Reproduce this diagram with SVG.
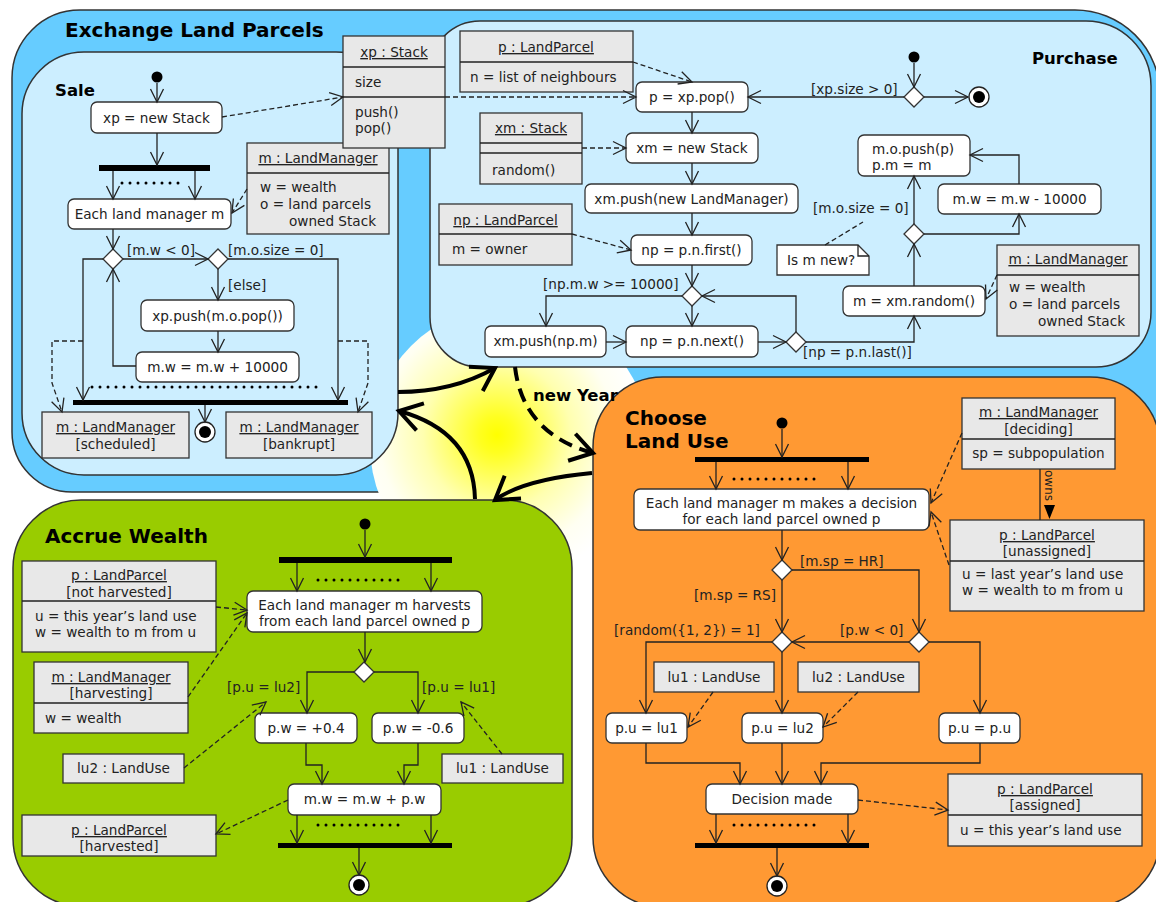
<svg xmlns="http://www.w3.org/2000/svg" width="1156" height="902" viewBox="0 0 1156 902">
<defs>
<radialGradient id="sun" cx="497" cy="435" r="148" gradientUnits="userSpaceOnUse">
<stop offset="0" stop-color="#ffff00"/>
<stop offset="0.12" stop-color="#ffff20"/>
<stop offset="0.5" stop-color="#ffffb0"/>
<stop offset="0.8" stop-color="#fffff2"/>
<stop offset="1" stop-color="#ffffff"/>
</radialGradient>
<marker id="a" markerUnits="userSpaceOnUse" markerWidth="16" markerHeight="16" viewBox="0 0 16 16" refX="14" refY="8" orient="auto"><path d="M1,1.5 L14,8 L1,14.5" fill="none" stroke="#222" stroke-width="1.3"/></marker>
<marker id="T" markerUnits="userSpaceOnUse" markerWidth="34" markerHeight="34" viewBox="0 0 34 34" refX="26" refY="17" orient="auto"><path d="M4,3 L26,17 L4,31" fill="none" stroke="#000" stroke-width="4"/></marker>
<style>
.t{font-family:"DejaVu Sans",Verdana,sans-serif;font-size:13.6px;fill:#222}
.c{text-anchor:middle}
.u{text-decoration:underline}
.h{font-family:"DejaVu Sans",Verdana,sans-serif;font-weight:bold;fill:#000}
.act{fill:#fff;stroke:#333;stroke-width:1.3}
.obj{fill:#e8e8e8;stroke:#333;stroke-width:1.3}
.ln{fill:none;stroke:#222;stroke-width:1.3}
.ar{marker-end:url(#a)}
.ds{stroke-dasharray:5 3}
.bar{fill:#000}
.dots{stroke:#000;stroke-width:3;stroke-linecap:round;stroke-dasharray:0 8;fill:none}
.dia{fill:#fff;stroke:#333;stroke-width:1.3}
.fin{fill:#fff;stroke:#222;stroke-width:1.3}
.big{fill:none;stroke:#000;stroke-width:4;marker-end:url(#T)}
.box{stroke:#333;stroke-width:1.5}
</style>
</defs>
<rect width="1156" height="902" fill="#fff"/>

<!-- containers -->
<g id="exchange">
<path class="box" d="M80,10 H1075 A85,85 0 0 1 1160,95 V432 A60,60 0 0 1 1100,492 H72 A60,60 0 0 1 12,432 V78 A68,68 0 0 1 80,10 Z" fill="#66ccff"/>
</g>
<circle id="sunbg" cx="510" cy="445" r="140" fill="url(#sun)"/>
<g id="sale-box"><rect class="box" x="22" y="52" width="376" height="423" rx="62" fill="#cceeff"/></g>
<g id="purchase-box"><path class="box" d="M480,21 H1086 A65,65 0 0 1 1151,86 V312 A55,55 0 0 1 1096,367 H480 A50,50 0 0 1 430,317 V71 A50,50 0 0 1 480,21 Z" fill="#cceeff"/></g>
<g id="accrue-box"><rect class="box" x="13" y="500" width="559" height="406" rx="68" fill="#99cc00"/></g>
<g id="choose-box"><rect class="box" x="593" y="377" width="567" height="530" rx="70" fill="#ff9933"/></g>

<text class="h" x="65" y="37" font-size="20">Exchange Land Parcels</text>
<text class="h" x="55" y="96" font-size="16.5">Sale</text>
<text class="h" x="1032" y="64" font-size="16.5">Purchase</text>
<text class="h" x="45" y="543" font-size="20">Accrue Wealth</text>
<text class="h" x="625" y="425" font-size="20">Choose</text>
<text class="h" x="625" y="448" font-size="20">Land Use</text>
<text class="h" x="533" y="401" font-size="16.5">new Year</text>

<!-- ===== Sale nodes ===== -->
<g id="s-init"><circle cx="157" cy="77" r="5.5" fill="#000"/></g>
<g id="s-newstack"><rect class="act" x="91" y="102" width="131" height="31" rx="6"/><text class="t c" x="156.5" y="122.5">xp = new Stack</text></g>
<g id="s-fork"><rect class="bar" x="99" y="165" width="111" height="6"/></g>
<g id="s-each"><rect class="act" x="68" y="199" width="163" height="30" rx="6"/><text class="t c" x="149.5" y="219">Each land manager m</text></g>
<g id="s-lm"><rect class="obj" x="247" y="143" width="142" height="91"/><line class="ln" x1="247" y1="173" x2="389" y2="173"/>
<text class="t c u" x="318" y="163">m : LandManager</text>
<text class="t" x="260" y="192">w = wealth</text><text class="t" x="260" y="209">o = land parcels</text><text class="t" x="289" y="226">owned Stack</text></g>
<g id="s-xp"><rect class="obj" x="343" y="36" width="102" height="112"/><line class="ln" x1="343" y1="67" x2="445" y2="67"/><line class="ln" x1="343" y1="97" x2="445" y2="97"/>
<text class="t c u" x="394" y="57">xp : Stack</text><text class="t" x="355" y="87">size</text><text class="t" x="355" y="117">push()</text><text class="t" x="355" y="133">pop()</text></g>
<g id="s-d1"><polygon class="dia" points="113,249 123,259 113,269 103,259"/></g>
<g id="s-d2"><polygon class="dia" points="218,249 228,259 218,269 208,259"/></g>
<g id="s-push"><rect class="act" x="141" y="300" width="153" height="31" rx="6"/><text class="t c" x="217.5" y="320.5">xp.push(m.o.pop())</text></g>
<g id="s-plus"><rect class="act" x="136" y="352" width="163" height="30" rx="6"/><text class="t c" x="217.5" y="372">m.w = m.w + 10000</text></g>
<g id="s-join"><rect class="bar" x="73" y="400" width="275" height="5"/></g>
<g id="s-final"><circle class="fin" cx="205" cy="432" r="10"/><circle cx="205" cy="432" r="6" fill="#000"/></g>
<g id="s-sched"><rect class="obj" x="42" y="412" width="147" height="46"/><text class="t c u" x="115.5" y="432">m : LandManager</text><text class="t c" x="115.5" y="449">[scheduled]</text></g>
<g id="s-bank"><rect class="obj" x="226" y="412" width="146" height="46"/><text class="t c u" x="299" y="432">m : LandManager</text><text class="t c" x="299" y="449">[bankrupt]</text></g>

<!-- ===== Purchase nodes ===== -->
<g id="p-lp"><rect class="obj" x="460" y="31" width="173" height="61"/><line class="ln" x1="460" y1="62" x2="633" y2="62"/><text class="t c u" x="546" y="52">p : LandParcel</text><text class="t" x="470" y="82">n = list of neighbours</text></g>
<g id="p-pop"><rect class="act" x="636" y="82" width="112" height="30" rx="6"/><text class="t c" x="692" y="102">p = xp.pop()</text></g>
<g id="p-xm"><rect class="obj" x="480" y="113" width="102" height="71"/><line class="ln" x1="480" y1="143" x2="582" y2="143"/><line class="ln" x1="480" y1="153" x2="582" y2="153"/><text class="t c u" x="531" y="133">xm : Stack</text><text class="t" x="492" y="175">random()</text></g>
<g id="p-newxm"><rect class="act" x="626" y="133" width="132" height="30" rx="6"/><text class="t c" x="692" y="153">xm = new Stack</text></g>
<g id="p-pushlm"><rect class="act" x="585" y="184" width="213" height="29" rx="6"/><text class="t c" x="691.5" y="203.5">xm.push(new LandManager)</text></g>
<g id="p-np"><rect class="obj" x="439" y="204" width="133" height="61"/><line class="ln" x1="439" y1="234" x2="572" y2="234"/><text class="t c u" x="505.5" y="225">np : LandParcel</text><text class="t" x="452" y="254">m = owner</text></g>
<g id="p-first"><rect class="act" x="631" y="235" width="121" height="30" rx="6"/><text class="t c" x="691.5" y="255">np = p.n.first()</text></g>
<g id="p-d5"><polygon class="dia" points="692,286 702,296 692,306 682,296"/></g>
<g id="p-pushnp"><rect class="act" x="485" y="326" width="121" height="31" rx="6"/><text class="t c" x="545.5" y="346">xm.push(np.m)</text></g>
<g id="p-next"><rect class="act" x="626" y="326" width="132" height="31" rx="6"/><text class="t c" x="692" y="346">np = p.n.next()</text></g>
<g id="p-d6"><polygon class="dia" points="796,332 806,342 796,352 786,342"/></g>
<g id="p-random"><rect class="act" x="843" y="286" width="142" height="30" rx="6"/><text class="t c" x="914" y="306">m = xm.random()</text></g>
<g id="p-d7"><polygon class="dia" points="914,224 924,234 914,244 904,234"/></g>
<g id="p-minus"><rect class="act" x="938" y="184" width="163" height="30" rx="6"/><text class="t c" x="1019.5" y="204">m.w = m.w - 10000</text></g>
<g id="p-opush"><rect class="act" x="858" y="135" width="112" height="41" rx="6"/><text class="t" x="872" y="154">m.o.push(p)</text><text class="t" x="872" y="170">p.m = m</text></g>
<g id="p-d8"><polygon class="dia" points="914,87 924,97 914,107 904,97"/></g>
<g id="p-init"><circle cx="914" cy="57" r="5.5" fill="#000"/></g>
<g id="p-final"><circle class="fin" cx="979" cy="97" r="10"/><circle cx="979" cy="97" r="6" fill="#000"/></g>
<g id="p-lm"><rect class="obj" x="997" y="245" width="142" height="91"/><line class="ln" x1="997" y1="275" x2="1139" y2="275"/><text class="t c u" x="1068" y="264">m : LandManager</text>
<text class="t" x="1009" y="292">w = wealth</text><text class="t" x="1009" y="309">o = land parcels</text><text class="t" x="1038" y="326">owned Stack</text></g>
<g id="p-note"><polygon points="777,245 858,245 869,256 869,275 777,275" fill="#fff" stroke="#333" stroke-width="1.3"/><polyline class="ln" points="858,245 858,256 869,256"/><text class="t" x="787" y="265">Is m new?</text></g>

<!-- ===== Accrue Wealth nodes ===== -->
<g id="a-init"><circle cx="365" cy="524" r="5.5" fill="#000"/></g>
<g id="a-fork"><rect class="bar" x="279" y="557" width="173" height="6"/></g>
<g id="a-each"><rect class="act" x="247" y="591" width="235" height="41" rx="6"/><text class="t c" x="364.5" y="610">Each land manager m harvests</text><text class="t c" x="364.5" y="626">from each land parcel owned p</text></g>
<g id="a-d9"><polygon class="dia" points="364,662 374,672 364,682 354,672"/></g>
<g id="a-pos"><rect class="act" x="255" y="713" width="102" height="30" rx="6"/><text class="t c" x="306" y="733">p.w = +0.4</text></g>
<g id="a-neg"><rect class="act" x="372" y="713" width="92" height="30" rx="6"/><text class="t c" x="418" y="733">p.w = -0.6</text></g>
<g id="a-sum"><rect class="act" x="288" y="784" width="153" height="31" rx="6"/><text class="t c" x="364.5" y="804">m.w = m.w + p.w</text></g>
<g id="a-join"><rect class="bar" x="278" y="843" width="174" height="5"/></g>
<g id="a-final"><circle class="fin" cx="359" cy="885" r="10"/><circle cx="359" cy="885" r="6" fill="#000"/></g>
<g id="a-pnh"><rect class="obj" x="22" y="561" width="194" height="91"/><line class="ln" x1="22" y1="601" x2="216" y2="601"/><text class="t c u" x="119" y="580">p : LandParcel</text><text class="t c" x="119" y="597">[not harvested]</text>
<text class="t" x="35" y="621">u = this year’s land use</text><text class="t" x="35" y="637">w = wealth to m from u</text></g>
<g id="a-lm"><rect class="obj" x="34" y="662" width="154" height="71"/><line class="ln" x1="34" y1="703" x2="188" y2="703"/><text class="t c u" x="111" y="682">m : LandManager</text><text class="t c" x="111" y="698">[harvesting]</text><text class="t" x="45" y="723">w = wealth</text></g>
<g id="a-lu2"><rect class="obj" x="63" y="754" width="121" height="29"/><text class="t c" x="123.5" y="773">lu2 : LandUse</text></g>
<g id="a-lu1"><rect class="obj" x="442" y="754" width="121" height="29"/><text class="t c" x="502.5" y="773">lu1 : LandUse</text></g>
<g id="a-ph"><rect class="obj" x="22" y="815" width="194" height="41"/><text class="t c u" x="119" y="835">p : LandParcel</text><text class="t c" x="119" y="851">[harvested]</text></g>

<!-- ===== Choose Land Use nodes ===== -->
<g id="c-init"><circle cx="782" cy="423" r="5.5" fill="#000"/></g>
<g id="c-fork"><rect class="bar" x="695" y="457" width="174" height="5"/></g>
<g id="c-each"><rect class="act" x="634" y="489" width="295" height="41" rx="6"/><text class="t c" x="781.5" y="508">Each land manager m makes a decision</text><text class="t c" x="781.5" y="524">for each land parcel owned p</text></g>
<g id="c-d10"><polygon class="dia" points="782,560 792,570 782,580 772,570"/></g>
<g id="c-d11"><polygon class="dia" points="919,632 929,642 919,652 909,642"/></g>
<g id="c-d12"><polygon class="dia" points="782,632 792,642 782,652 772,642"/></g>
<g id="c-lu1"><rect class="obj" x="654" y="662" width="120" height="30"/><text class="t c" x="714" y="682">lu1 : LandUse</text></g>
<g id="c-lu2"><rect class="obj" x="798" y="662" width="121" height="30"/><text class="t c" x="858.5" y="682">lu2 : LandUse</text></g>
<g id="c-pu1"><rect class="act" x="606" y="713" width="81" height="30" rx="6"/><text class="t c" x="646.5" y="733">p.u = lu1</text></g>
<g id="c-pu2"><rect class="act" x="742" y="713" width="81" height="30" rx="6"/><text class="t c" x="782.5" y="733">p.u = lu2</text></g>
<g id="c-pup"><rect class="act" x="939" y="713" width="81" height="30" rx="6"/><text class="t c" x="979.5" y="733">p.u = p.u</text></g>
<g id="c-dec"><rect class="act" x="706" y="784" width="152" height="30" rx="6"/><text class="t c" x="782" y="804">Decision made</text></g>
<g id="c-join"><rect class="bar" x="695" y="843" width="174" height="5"/></g>
<g id="c-final"><circle class="fin" cx="777" cy="886" r="10"/><circle cx="777" cy="886" r="6" fill="#000"/></g>
<g id="c-lm"><rect class="obj" x="962" y="398" width="153" height="71"/><line class="ln" x1="962" y1="439" x2="1115" y2="439"/><text class="t c u" x="1038.5" y="417">m : LandManager</text><text class="t c" x="1038.5" y="434">[deciding]</text><text class="t c" x="1038.5" y="458">sp = subpopulation</text></g>
<g id="c-pun"><rect class="obj" x="950" y="520" width="194" height="91"/><line class="ln" x1="950" y1="561" x2="1144" y2="561"/><text class="t c u" x="1047" y="540">p : LandParcel</text><text class="t c" x="1047" y="556">[unassigned]</text>
<text class="t" x="962" y="579">u = last year’s land use</text><text class="t" x="962" y="595">w = wealth to m from u</text></g>
<g id="c-pas"><rect class="obj" x="948" y="774" width="194" height="72"/><line class="ln" x1="948" y1="815" x2="1142" y2="815"/><text class="t c u" x="1045" y="794">p : LandParcel</text><text class="t c" x="1045" y="810">[assigned]</text><text class="t" x="960" y="835">u = this year’s land use</text></g>

<!-- ===== connectors ===== -->
<g id="connectors">
<!-- Sale -->
<line class="ln ar" x1="157" y1="83" x2="157" y2="102"/>
<line class="ln ar ds" x1="222" y1="117" x2="343" y2="97"/>
<line class="ln ar" x1="157" y1="133" x2="157" y2="165"/>
<line class="ln ar" x1="113" y1="171" x2="113" y2="199"/>
<line class="ln ar" x1="195" y1="171" x2="195" y2="199"/>
<line class="dots" x1="122" y1="183" x2="181" y2="183"/>
<line class="ln ar ds" x1="247" y1="189" x2="232" y2="213"/>
<line class="ln ar" x1="113" y1="229" x2="113" y2="249"/>
<line class="ln ar" x1="123" y1="259" x2="208" y2="259"/>
<polyline class="ln ar" points="228,259 338,259 338,400"/>
<polyline class="ln ar" points="103,259 83,259 83,400"/>
<line class="ln ar" x1="218" y1="269" x2="218" y2="300"/>
<line class="ln ar" x1="218" y1="331" x2="218" y2="352"/>
<polyline class="ln ar" points="136,366 113,366 113,269"/>
<line class="dots" x1="92" y1="387" x2="324" y2="387"/>
<line class="ln ar" x1="205" y1="405" x2="205" y2="422"/>
<polyline class="ln ar ds" points="83,341 52,341 52,383 62,412"/>
<polyline class="ln ar ds" points="338,341 368,341 368,383 358,412"/>
<text class="t" x="127" y="255">[m.w &lt; 0]</text>
<text class="t" x="228" y="255">[m.o.size = 0]</text>
<text class="t" x="228" y="290">[else]</text>
<!-- Purchase -->
<line class="ln ar" x1="914" y1="63" x2="914" y2="87"/>
<line class="ln ar" x1="924" y1="97" x2="968" y2="97"/>
<line class="ln ar" x1="904" y1="97" x2="748" y2="97"/>
<line class="ln ar ds" x1="445" y1="97" x2="636" y2="97"/>
<line class="ln ar ds" x1="633" y1="62" x2="692" y2="82"/>
<line class="ln ar" x1="692" y1="112" x2="692" y2="133"/>
<line class="ln ar ds" x1="582" y1="148" x2="626" y2="148"/>
<line class="ln ar" x1="692" y1="163" x2="692" y2="184"/>
<line class="ln ar" x1="692" y1="213" x2="692" y2="235"/>
<line class="ln ar ds" x1="572" y1="234" x2="631" y2="250"/>
<line class="ln ar" x1="692" y1="265" x2="692" y2="286"/>
<polyline class="ln ar" points="682,296 546,296 546,326"/>
<line class="ln ar" x1="692" y1="306" x2="692" y2="326"/>
<line class="ln ar" x1="606" y1="342" x2="626" y2="342"/>
<line class="ln ar" x1="758" y1="342" x2="786" y2="342"/>
<polyline class="ln ar" points="796,332 796,296 702,296"/>
<polyline class="ln ar" points="806,342 914,342 914,316"/>
<line class="ln ar" x1="914" y1="286" x2="914" y2="244"/>
<line class="ln ar" x1="914" y1="224" x2="914" y2="176"/>
<polyline class="ln ar" points="924,234 1019,234 1019,214"/>
<polyline class="ln ar" points="1019,184 1019,155 970,155"/>
<line class="ln ar ds" x1="997" y1="275" x2="986" y2="299"/>
<line class="ln ds" x1="825" y1="245" x2="863" y2="222"/>
<text class="t" x="811" y="94">[xp.size &gt; 0]</text>
<text class="t" x="543" y="289">[np.m.w &gt;= 10000]</text>
<text class="t" x="803" y="357">[np = p.n.last()]</text>
<text class="t" x="813" y="213">[m.o.size = 0]</text>
<!-- Accrue Wealth -->
<line class="ln ar" x1="365" y1="530" x2="365" y2="557"/>
<line class="ln ar" x1="297" y1="563" x2="297" y2="591"/>
<line class="ln ar" x1="431" y1="563" x2="431" y2="591"/>
<line class="dots" x1="318" y1="580" x2="406" y2="580"/>
<line class="ln ar" x1="365" y1="632" x2="365" y2="662"/>
<polyline class="ln ar" points="354,672 307,672 307,713"/>
<polyline class="ln ar" points="374,672 418,672 418,713"/>
<polyline class="ln ar" points="306,743 306,765 322,765 322,784"/>
<polyline class="ln ar" points="418,743 418,765 404,765 404,784"/>
<line class="ln ar" x1="297" y1="815" x2="297" y2="843"/>
<line class="ln ar" x1="431" y1="815" x2="431" y2="843"/>
<line class="dots" x1="318" y1="825" x2="406" y2="825"/>
<line class="ln ar" x1="359" y1="848" x2="359" y2="875"/>
<line class="ln ar ds" x1="216" y1="607" x2="247" y2="610"/>
<line class="ln ar ds" x1="188" y1="697" x2="247" y2="613"/>
<line class="ln ar ds" x1="184" y1="768" x2="266" y2="702"/>
<line class="ln ar ds" x1="502" y1="754" x2="461" y2="702"/>
<line class="ln ar ds" x1="288" y1="800" x2="216" y2="834"/>
<text class="t" x="227" y="692">[p.u = lu2]</text>
<text class="t" x="422" y="692">[p.u = lu1]</text>
<!-- Choose Land Use -->
<line class="ln ar" x1="782" y1="429" x2="782" y2="457"/>
<line class="ln ar" x1="716" y1="462" x2="716" y2="489"/>
<line class="ln ar" x1="848" y1="462" x2="848" y2="489"/>
<line class="dots" x1="734" y1="479" x2="822" y2="479"/>
<line class="ln ar" x1="782" y1="530" x2="782" y2="560"/>
<polyline class="ln ar" points="792,570 919,570 919,632"/>
<line class="ln ar" x1="782" y1="580" x2="782" y2="632"/>
<line class="ln ar" x1="909" y1="642" x2="792" y2="642"/>
<polyline class="ln ar" points="772,642 646,642 646,713"/>
<line class="ln ar" x1="782" y1="652" x2="782" y2="713"/>
<polyline class="ln ar" points="929,642 980,642 980,713"/>
<polyline class="ln ar" points="646,743 646,763 740,763 740,784"/>
<line class="ln ar" x1="782" y1="743" x2="782" y2="784"/>
<polyline class="ln ar" points="980,743 980,763 821,763 821,784"/>
<line class="ln ar" x1="716" y1="814" x2="716" y2="843"/>
<line class="ln ar" x1="848" y1="814" x2="848" y2="843"/>
<line class="dots" x1="734" y1="825" x2="822" y2="825"/>
<line class="ln ar" x1="777" y1="848" x2="777" y2="876"/>
<line class="ln ar ds" x1="713" y1="692" x2="688" y2="727"/>
<line class="ln ar ds" x1="858" y1="692" x2="823" y2="727"/>
<line class="ln ar ds" x1="858" y1="800" x2="948" y2="810"/>
<line class="ln ar ds" x1="962" y1="433" x2="931" y2="503"/>
<line class="ln ar ds" x1="949" y1="565" x2="931" y2="512"/>
<line class="ln" x1="1040" y1="469" x2="1040" y2="520"/>
<text class="t" style="font-size:12px" transform="translate(1045,470) rotate(90)">owns</text>
<polygon points="1044,505 1055,505 1049.5,519" fill="#000"/>
<text class="t" x="800" y="566">[m.sp = HR]</text>
<text class="t" x="694" y="600">[m.sp = RS]</text>
<text class="t" x="614" y="635">[random({1, 2}) = 1]</text>
<text class="t" x="840" y="635">[p.w &lt; 0]</text>
<!-- cycle arrows -->
<path class="big" d="M398,392 C430,392 465,385 495,368"/>
<path d="M515,367 C520,410 545,440 593,453" fill="none" stroke="#000" stroke-width="4" stroke-dasharray="14 8" marker-end="url(#T)"/>
<path class="big" d="M592,473 C560,476 520,482 495,500"/>
<path class="big" d="M475,499 C474,455 450,425 399,411"/>
</g>
</svg>
